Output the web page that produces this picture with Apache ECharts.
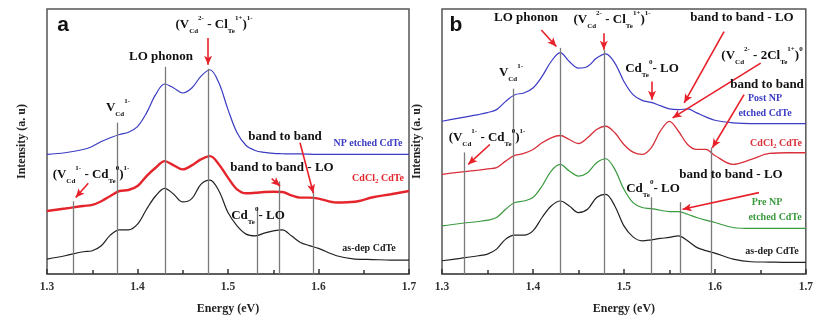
<!DOCTYPE html>
<html><head><meta charset="utf-8">
<script src="https://cdn.jsdelivr.net/npm/echarts@6/dist/echarts.min.js"></script>
<style>html,body{margin:0;padding:0;background:#fff}#c{width:816px;height:320px}</style>
</head><body><div id="c"></div>
<script>
// ---- data ----
const energy = [1.30,1.32,1.34,1.35,1.36,1.37,1.38,1.39,1.40,1.41,1.42,1.43,1.44,1.45,1.46,1.47,1.48,1.49,1.50,1.51,1.52,1.53,1.54,1.55,1.56,1.57,1.58,1.59,1.60,1.62,1.64,1.66,1.68,1.70];
const xTicks = [1.3,1.4,1.5,1.6,1.7];
// panel a
const aNPetched = [120,121.7,125,128,133,136.7,140,142.3,148,161.7,180,190.7,186.7,181.7,186.7,198.3,205,191.7,165,141.7,129,124,122,121,120.7,120.5,120.5,120.3,120,120,120,120,120,120];
const aCdCl2 = [63.3,65.7,68.3,69.3,73,78.3,83.3,84.3,88.3,98.3,106.7,113.3,109,105,109,115,118.3,110,96.7,85,81,81.5,82.3,82.5,82.3,79,76.7,76.7,75.7,71.7,72.5,77,80,83.3];
const aAsDep = [15,18.3,22.3,23.3,28.3,39,44.3,44.3,50,65,78.3,86,80,72.3,75.7,90,94.3,83.3,61.7,48.3,40,38.3,41,43.3,44.3,38.3,31.7,28.5,25.7,18.3,15,14.5,14,14];
// panel b
const bPostNP = [153.3,156.7,160,162,165,173.3,180,181.7,186.7,198.3,213.3,222.3,213.3,206.7,208.3,216.7,221,211.7,193.3,180,174.3,172.3,169,165.7,165,165.7,161.7,157.7,154.3,151.7,151,151,151,151];
const bCdCl2 = [100,102.3,104.3,105.5,106.7,113.3,119,121,125,131.7,136.7,139,135,131,136.7,145,148.3,141.7,130,122.3,120,126.7,143.3,153.3,143.3,130,125,125,119,110,115,121,121.7,121.7];
const bPreNP = [48.3,50.7,52.7,54,56.7,65,71.7,73.3,76.7,88.3,103.3,110,103.3,98.3,101.7,111.7,115.7,105,85,71.7,66.7,65.7,64,62.7,62.7,60,56.7,54,51.7,46.7,45.7,45.7,45.7,45.7];
const bAsDep = [13.3,15.7,18.3,20,25,35,39,39,43.3,56.7,68.3,73.3,68.3,61.7,65,76.7,80,68.3,48.3,37.3,33.3,34.3,35.7,36.7,38.3,33.3,26.7,23.5,21,15,12.3,12,11.7,11.7];
// reference (drop) lines: energy and top intensity
const aLineE = [1.329,1.378,1.431,1.478,1.532,1.557,1.594];
const aLineTop = [73,152,208,206,67,93,83];
const bLineE = [1.325,1.378,1.430,1.478,1.530,1.562,1.596];
const bLineTop = [122,186,227,225,77,72,127];
// arrows: [E0, I0, E1, I1]
const aArrows = [[1.478,237,1.478,210],[1.3456,91,1.3317,76.7],[1.5483,95.7,1.5575,88.3],[1.5796,131.7,1.5943,81]];
const bArrows = [[1.4092,245,1.4257,228.3],[1.4779,241.7,1.4779,225],[1.5309,193.3,1.5309,175],[1.6101,243.3,1.5663,171.7],[1.6504,211.7,1.5535,156.7],[1.6321,180,1.5973,126.7],[1.3526,130,1.3288,110],[1.6485,81.7,1.5645,65]];

// ---- chart ----
const serif = '"Liberation Serif","Times New Roman",serif';
const pair = (ys) => ys.map((y,i)=>[energy[i], y]);
const vlines = (E, T) => E.map((e,i)=>[{coord:[e,0]},{coord:[e,T[i]]}]);
const arrows = (A) => A.map(a=>[{coord:[a[0],a[1]]},{coord:[a[2],a[3]]}]);

function xAxis(gi){
  return {type:'value', gridIndex:gi, min:xTicks[0], max:xTicks[xTicks.length-1], interval:0.1,
    name:'Energy (eV)', nameLocation:'middle', nameGap:29,
    nameTextStyle:{fontFamily:serif, fontWeight:'bold', fontSize:12, color:'#222'},
    axisLine:{show:true, lineStyle:{color:'#555', width:1.5}}, splitLine:{show:false},
    axisTick:{show:true, inside:true, length:5, lineStyle:{color:'#333', width:1.5}},
    minorTick:{show:true, splitNumber:2, length:4, lineStyle:{color:'#333', width:1.5}},
    axisLabel:{margin:7, fontFamily:serif, fontWeight:'bold', fontSize:11.5, color:'#333',
      formatter:(v)=>v.toFixed(1)}};
}
function yAxis(gi){
  return {type:'value', gridIndex:gi, min:0, max:266,
    name:'Intensity (a. u)', nameLocation:'middle', nameGap:19,
    nameTextStyle:{fontFamily:serif, fontWeight:'bold', fontSize:12, color:'#222'},
    axisLine:{show:false}, axisTick:{show:false}, axisLabel:{show:false}, splitLine:{show:false}};
}
function curve(gi, ys, color, w){
  return {type:'line', xAxisIndex:gi, yAxisIndex:gi, data:pair(ys), smooth:0.35,
    showSymbol:false, symbol:'none', lineStyle:{color, width:w}, silent:true, z:3};
}
function marks(gi, E, T, A){
  return {type:'line', xAxisIndex:gi, yAxisIndex:gi, data:[], silent:true, z:2,
    markLine:{silent:true, symbol:'none', label:{show:false}, animation:false,
      lineStyle:{color:'#7a7a7a', width:1.3, type:'solid'},
      data: vlines(E,T).concat(arrows(A).map(d=>{
        d[0].symbol='none'; d[1].symbol='arrow'; d[1].symbolSize=[6,9];
        d[0].lineStyle={color:'#e8202a', width:1.6, type:'solid'};
        return d;}))}};
}

const rich = {
  m:{fontFamily:serif, fontWeight:'bold', fontSize:13, lineHeight:20, fill:'#111', color:'#111'},
  sub:{fontFamily:serif, fontWeight:'bold', fontSize:7, lineHeight:8, verticalAlign:'bottom', fill:'#111', color:'#111'},
  sup:{fontFamily:serif, fontWeight:'bold', fontSize:7, lineHeight:8, verticalAlign:'top', fill:'#111', color:'#111'}
};
function t(x,y,text){
  return {type:'text', x, y, silent:true, z:10, style:{text, rich, align:'center', verticalAlign:'middle',
    textAlign:'center', textVerticalAlign:'middle', fill:'#111'}};
}
function small(x,y,text,color){
  return {type:'text', x, y, silent:true, z:10, style:{text, fill:color, font:'bold 10px '+serif,
    align:'center', verticalAlign:'middle', textAlign:'center', textVerticalAlign:'middle',
    rich:{m:{fontFamily:serif,fontWeight:'bold',fontSize:10,lineHeight:14,fill:color},
          sub:{fontFamily:serif,fontWeight:'bold',fontSize:7,lineHeight:6,verticalAlign:'bottom',fill:color}}}};
}
const L_VCl = '{m|(V}{sub|Cd}{sup|2-}{m| - Cl}{sub|Te}{sup|1+}{m|)}{sup|1-}';
const L_V2Cl = '{m|(V}{sub|Cd}{sup|2-}{m| - 2Cl}{sub|Te}{sup|1+}{m|)}{sup|0}';
const L_VCd = '{m|(V}{sub|Cd}{sup|1-}{m| - Cd}{sub|Te}{sup|0}{m|)}{sup|1-}';
const L_V = '{m|V}{sub|Cd}{sup|1-}';
const L_CdLO = '{m|Cd}{sub|Te}{sup|0}{m|- LO}';

const chart = echarts.init(document.getElementById('c'), null, {renderer:'canvas'});
chart.setOption({
  animation:false, backgroundColor:'#fff',
  grid:[
    {left:47, right:407, top:9, bottom:45, show:true, borderColor:'#555', borderWidth:1.5, backgroundColor:'transparent'},
    {left:442, right:9, top:9, bottom:45, show:true, borderColor:'#555', borderWidth:1.5, backgroundColor:'transparent'}
  ],
  xAxis:[xAxis(0), xAxis(1)],
  yAxis:[yAxis(0), yAxis(1)],
  series:[
    marks(0, aLineE, aLineTop, aArrows),
    marks(1, bLineE, bLineTop, bArrows),
    curve(0, aNPetched, '#3b3bc4', 1.2),
    curve(0, aCdCl2, '#e4262c', 2.4),
    curve(0, aAsDep, '#222', 1.2),
    curve(1, bPostNP, '#3b3bc4', 1.2),
    curve(1, bCdCl2, '#d8303a', 1.3),
    curve(1, bPreNP, '#3a9a3e', 1.2),
    curve(1, bAsDep, '#222', 1.2)
  ],
  graphic:[
    {type:'text', x:63, y:25, silent:true, style:{text:'a', font:'bold 21px "Liberation Sans",Arial,sans-serif', fill:'#111', align:'center', verticalAlign:'middle', textAlign:'center', textVerticalAlign:'middle'}},
    {type:'text', x:456, y:25, silent:true, style:{text:'b', font:'bold 21px "Liberation Sans",Arial,sans-serif', fill:'#111', align:'center', verticalAlign:'middle', textAlign:'center', textVerticalAlign:'middle'}},
    t(214,25,L_VCl), t(161,57,'{m|LO phonon}'), t(118,108,L_V), t(285,137,'{m|band to band}'),
    t(282,168,'{m|band to band - LO}'), t(91,175,L_VCd), t(258,216,L_CdLO),
    small(368,143,'{m|NP etched CdTe}','#3b3bc4'), small(378,178,'{m|CdCl}{sub|2}{m| CdTe}','#e4262c'),
    small(369,248,'{m|as-dep CdTe}','#222'),
    t(526,18,'{m|LO phonon}'), t(612,20,L_VCl), t(742,18,'{m|band to band - LO}'), t(762,56,L_V2Cl),
    t(511,73,L_V), t(652,69,L_CdLO), t(767,85,'{m|band to band}'), t(487,138,L_VCd),
    t(731,175,'{m|band to band - LO}'), t(653,189,L_CdLO),
    small(765,98,'{m|Post NP}','#3b3bc4'), small(765,113,'{m|etched CdTe}','#3b3bc4'),
    small(776,143,'{m|CdCl}{sub|2}{m| CdTe}','#d8303a'),
    small(767,202,'{m|Pre NP}','#3a9a3e'), small(775,217,'{m|etched CdTe}','#3a9a3e'),
    small(772,251,'{m|as-dep CdTe}','#222')
  ]
});
</script></body></html>
